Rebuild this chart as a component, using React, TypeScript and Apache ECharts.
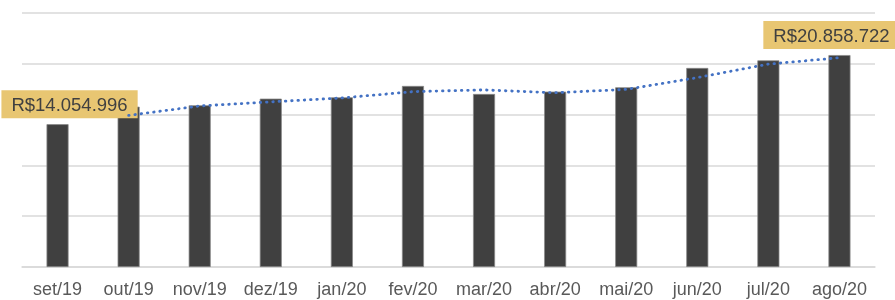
import React, { useEffect, useRef } from "react";
import * as echarts from "echarts";

const categories = ["set/19", "out/19", "nov/19", "dez/19", "jan/20", "fev/20", "mar/20", "abr/20", "mai/20", "jun/20", "jul/20", "ago/20"];
const revenue = [14054996, 15780000, 15920000, 16570000, 16700000, 17820000, 17030000, 17260000, 17690000, 19590000, 20340000, 20858722];
// 2-period moving average trendline
const movingAvg = [null, 14920000, 15850000, 16250000, 16640000, 17260000, 17430000, 17150000, 17480000, 18640000, 19970000, 20600000];
const labelledIdx = [0, 11];
const labelOffsets: Record<number, number[]> = { 0: [12, 0], 11: [-8, 0] };

const fmt = (v: number) => "R$" + String(Math.round(v)).replace(/\B(?=(\d{3})+(?!\d))/g, ".");

export default function App() {
  const ref = useRef<HTMLDivElement>(null);
  useEffect(() => {
    const chart = echarts.init(ref.current!, undefined, { renderer: "svg" });
    chart.setOption({
      animation: false,
      textStyle: { fontFamily: "'Liberation Sans', Arial, sans-serif" },
      grid: { left: 22, right: 20, top: 13, bottom: 33, containLabel: false },
      xAxis: {
        type: "category",
        data: categories,
        axisTick: { show: false },
        axisLine: { show: true, lineStyle: { color: "#d9d9d9", width: 1.5 } },
        axisLabel: { color: "#595959", fontSize: 18, margin: 13, interval: 0 },
      },
      yAxis: {
        type: "value",
        min: 0,
        max: 25000000,
        interval: 5000000,
        axisLabel: { show: false },
        axisLine: { show: false },
        axisTick: { show: false },
        splitLine: { lineStyle: { color: "#d9d9d9", width: 1.5 } },
      },
      series: [
        {
          type: "bar",
          barWidth: "31%",
          itemStyle: { color: "#404040", borderColor: "#8a8a8a", borderWidth: 0.75 },
          data: revenue.map((v, i) =>
            labelledIdx.includes(i)
              ? {
                  value: v,
                  label: {
                    show: true,
                    position: "top",
                    distance: 6,
                    offset: labelOffsets[i],
                    formatter: () => fmt(v),
                    color: "#404040",
                    fontSize: 18.5,
                    fontFamily: "'Liberation Sans', Arial, sans-serif",
                    backgroundColor: "#E8C672",
                    padding: [5, 10, 4, 10],
                  },
                }
              : v
          ),
        },
        {
          type: "line",
          data: movingAvg,
          symbol: "none",
          smooth: false,
          connectNulls: false,
          lineStyle: { color: "#4472C4", width: 2.8, type: [0.5, 5.8], cap: "round" },
          z: 3,
        },
      ],
    });
    return () => chart.dispose();
  }, []);
  return <div ref={ref} style={{ position: "fixed", left: 0, top: 0, width: 895, height: 300 }} />;
}
